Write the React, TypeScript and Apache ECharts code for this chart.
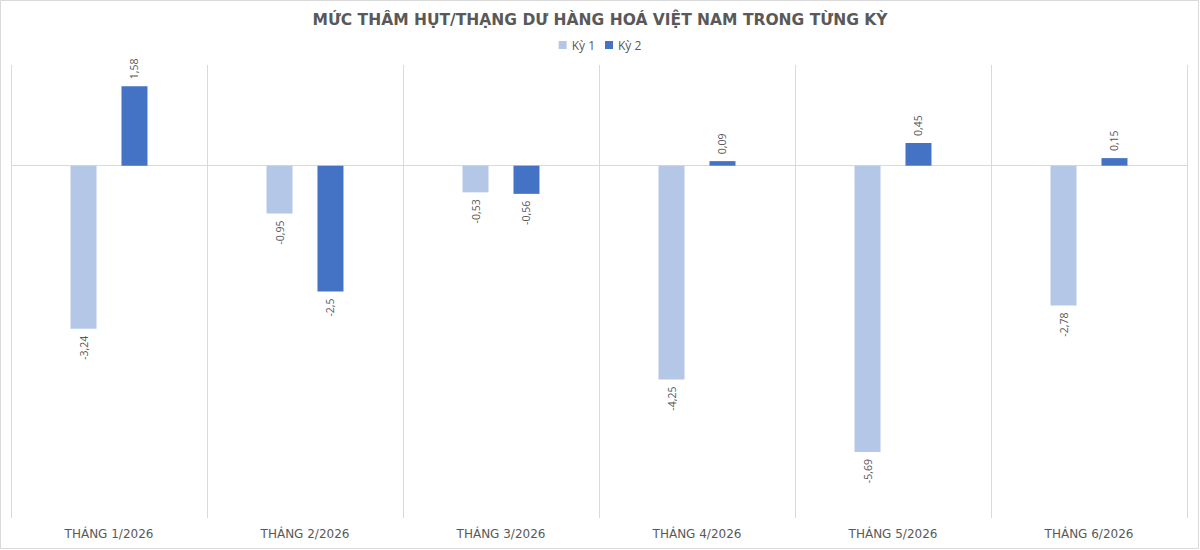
import React, { useEffect, useRef } from "react";
import * as echarts from "echarts";

const categories = ["THÁNG 1/2026", "THÁNG 2/2026", "THÁNG 3/2026", "THÁNG 4/2026", "THÁNG 5/2026", "THÁNG 6/2026"];
const ky1 = [-3.24, -0.95, -0.53, -4.25, -5.69, -2.78];
const ky2 = [1.58, -2.5, -0.56, 0.09, 0.45, 0.15];
const seriesNames = ["Kỳ 1", "Kỳ 2"];
const colors = ["#B4C7E7", "#4472C4"];

const fmt = (v: number) => String(v).replace(".", ",");

const toData = (arr: number[]) =>
  arr.map((v) => ({
    value: v,
    label: {
      position: v >= 0 ? "top" : "bottom",
      align: v >= 0 ? "left" : "right",
      verticalAlign: "middle",
    },
  }));

export default function App() {
  const ref = useRef<HTMLDivElement>(null);
  useEffect(() => {
    document.body.style.margin = "0";
    if (!ref.current) return;
    const chart = echarts.init(ref.current, null, { renderer: "svg" });
    const labelFont = "'Open Sans', sans-serif";
    const mkSeries = (name: string, arr: number[], color: string, withLine: boolean) => ({
      name,
      type: "bar",
      barWidth: 26,
      barGap: "96%",
      itemStyle: { color },
      label: {
        show: true,
        rotate: 90,
        distance: 7,
        color: "#595959",
        fontSize: 10.5,
        fontFamily: labelFont,
        formatter: (p: any) => fmt(p.value),
      },
      data: toData(arr),
      ...(withLine
        ? {
            markLine: {
              silent: true,
              symbol: "none",
              label: { show: false },
              lineStyle: { color: "#d9d9d9", type: "solid", width: 1 },
              data: [{ yAxis: 0 }],
              z: 1,
            },
          }
        : {}),
    });
    chart.setOption({
      animation: false,
      backgroundColor: "#ffffff",
      title: {
        text: "MỨC THÂM HỤT/THẠNG DƯ HÀNG HOÁ VIỆT NAM TRONG TỪNG KỲ",
        left: "center",
        top: 7,
        textStyle: {
          fontFamily: "'DejaVu Sans', sans-serif",
          fontWeight: "bold",
          fontSize: 15.5,
          color: "#595959",
        },
      },
      legend: {
        top: 34,
        left: "center",
        itemWidth: 8,
        itemHeight: 8,
        itemGap: 10,
        icon: "rect",
        textStyle: { color: "#595959", fontSize: 12, fontFamily: labelFont },
        data: seriesNames,
      },
      grid: { left: 11, right: 13, top: 65, bottom: 32, containLabel: false },
      xAxis: {
        type: "category",
        data: categories,
        axisLine: { show: false, onZero: false },
        axisTick: { show: false },
        splitLine: { show: true, lineStyle: { color: "#d9d9d9", width: 1 } },
        axisLabel: {
          color: "#595959",
          fontSize: 12,
          margin: 10,
          fontFamily: "'DejaVu Sans', sans-serif",
        },
      },
      yAxis: {
        type: "value",
        min: -7,
        max: 2,
        show: false,
        splitLine: { show: false },
      },
      graphic: [
        {
          type: "rect",
          shape: { x: 0.5, y: 0.5, width: 1198, height: 548 },
          style: { fill: "none", stroke: "#d9d9d9", lineWidth: 1 },
          silent: true,
        },
      ],
      series: [
        mkSeries(seriesNames[0], ky1, colors[0], true),
        mkSeries(seriesNames[1], ky2, colors[1], false),
      ],
    });
    return () => chart.dispose();
  }, []);
  return <div ref={ref} style={{ width: 1200, height: 550 }} />;
}
